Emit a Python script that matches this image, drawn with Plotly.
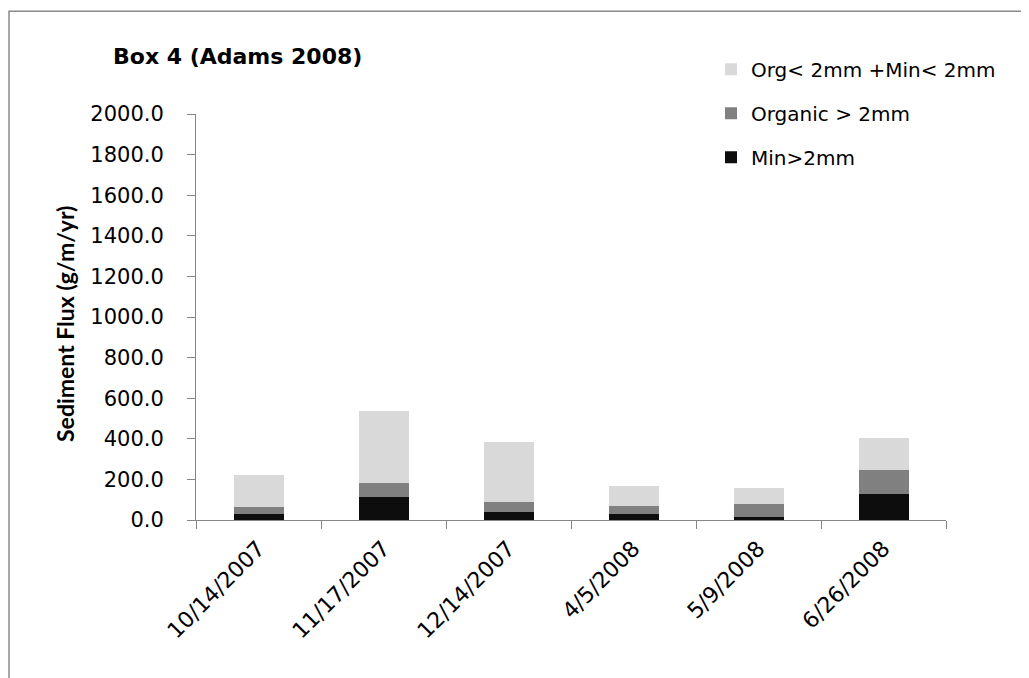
import plotly.graph_objects as go

dates = ["10/14/2007", "11/17/2007", "12/14/2007", "4/5/2008", "5/9/2008", "6/26/2008"]
min_gt2 = [31, 111, 38, 31, 17, 126]
organic_gt2 = [32, 72, 50, 40, 62, 120]
fine = [158, 356, 294, 96, 80, 159]

series_names = ["Min>2mm", "Organic > 2mm", "Org< 2mm +Min< 2mm"]
series_values = [min_gt2, organic_gt2, fine]
colors = ["#0d0d0d", "#808080", "#d9d9d9"]
legend_ranks = [3, 2, 1]

FONT = "DejaVu Sans, Verdana, sans-serif"
FONT_Y = "Lato, Calibri, sans-serif"

# page geometry (figure sits at an 8px body offset)
PX0, PX1 = 196, 946      # plot area left/right on page
PY0, PY1 = 113.5, 520.5  # plot area top/bottom on page
W, H = 750, 407


def px(x):
    return (x - PX0) / W


def py(y):
    return (PY1 - y) / H


fig = go.Figure()
for name, vals, col, rank in zip(series_names, series_values, colors, legend_ranks):
    fig.add_trace(go.Bar(
        x=dates, y=vals, name=name, marker=dict(color=col, line=dict(width=0)),
        legendgroup=name, legendrank=rank,
    ))

fig.update_layout(
    width=1021, height=670,
    barmode="stack", bargap=0.6,
    plot_bgcolor="white", paper_bgcolor="white",
    margin=dict(l=PX0 - 8, r=1021 - (PX1 - 8), t=PY0 - 8, b=670 - (PY1 - 8), autoexpand=False),
    font=dict(family=FONT, color="#000000", size=20),
    showlegend=True,
    legend=dict(
        x=px(711), y=py(49), xanchor="left", yanchor="top",
        traceorder="grouped", tracegroupgap=15,
        font=dict(size=20, family=FONT), itemwidth=30,
        bgcolor="rgba(0,0,0,0)",
    ),
    xaxis=dict(
        type="category", showline=True, linecolor="#868686", linewidth=1,
        ticks="outside", tickson="boundaries", ticklen=8, tickcolor="#868686",
        tickangle=-45, tickfont=dict(size=22, family=FONT), showgrid=False,
        ticklabelstandoff=6,
    ),
    yaxis=dict(
        range=[0, 2000], dtick=200, tickformat=".1f", showline=True,
        linecolor="#868686", linewidth=1, ticks="outside", ticklen=8,
        tickcolor="#868686", showgrid=False, zeroline=False,
        tickfont=dict(size=21, family=FONT), ticklabelstandoff=19,
    ),
    annotations=[
        dict(text="<b>Box 4 (Adams 2008)</b>", xref="paper", yref="paper",
             x=px(111), y=py(56), xanchor="left", yanchor="middle",
             showarrow=False, font=dict(size=22, family=FONT)),
        dict(text="<b>Sediment Flux (g/m/yr)</b>", xref="paper", yref="paper",
             x=px(65), y=py(324), xanchor="center", yanchor="middle",
             textangle=-90, showarrow=False, font=dict(size=23, family=FONT_Y)),
    ],
    shapes=[
        dict(type="rect", xref="paper", yref="paper",
             x0=px(9), x1=px(1100), y0=py(760), y1=py(10.5),
             line=dict(color="#8a8a8a", width=1.5), fillcolor="rgba(0,0,0,0)", layer="below"),
    ],
)

fig.write_html("out.html")
